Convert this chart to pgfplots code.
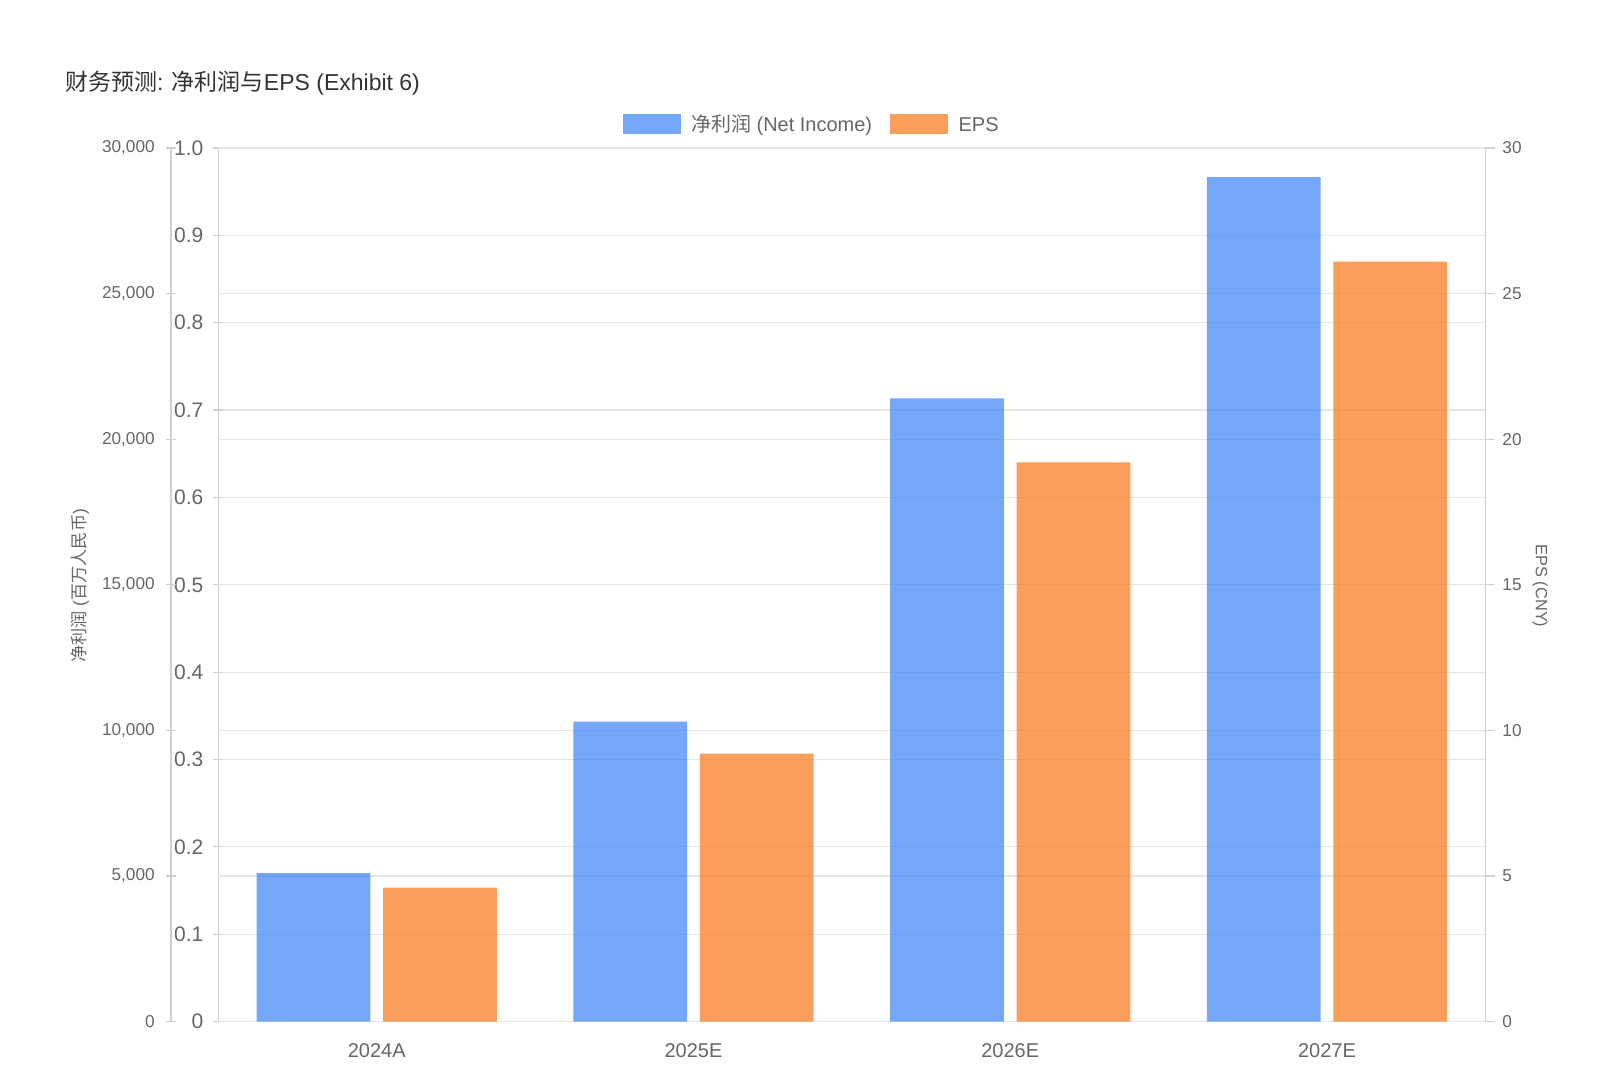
\documentclass[border=0pt]{standalone}
\usepackage{fontspec}
\setmainfont{Liberation Sans}
\newfontfamily\cjk{Noto Sans CJK SC}
\usepackage{pgfplots}
\usepackage{pgfplotstable}
\pgfplotsset{compat=1.18}
\definecolor{niblue}{RGB}{59,130,246}
\definecolor{epsorange}{RGB}{249,115,22}
\definecolor{txt}{HTML}{666666}
\definecolor{titlec}{HTML}{333333}
\definecolor{gridc}{HTML}{E6E6E6}
\definecolor{axc}{HTML}{D0D0D0}

\pgfplotstableread{
x ni eps
0 5100 4.6
1 10300 9.2
2 21400 19.2
3 29000 26.1
}\datatable

\begin{document}
\begin{tikzpicture}
\path[use as bounding box] (0,0) rectangle (811.5pt,540pt);
\pgfplotsset{
  base/.style={scale only axis, width=633.5pt, height=436.8pt,
    at={(109.2pt,29.2pt)}, anchor=south west, xmin=-0.5, xmax=3.5,
    /pgf/number format/assume math mode=true,
    tick style={axc, line width=0.6pt},
    grid style={gridc, line width=0.6pt},
    tick align=outside, major tick length=5pt,
    scaled y ticks=false},
  noarrow/.style={axis line style={-, axc, line width=0.8pt}},
}
% phantom 0-1 axis with x labels and legend
\begin{axis}[base, ymin=0, ymax=1,
  axis x line=bottom, axis y line=left, noarrow,
  ytick={0,0.1,0.2,0.3,0.4,0.5,0.6,0.7,0.8,0.9,1},
  yticklabels={0,0.1,0.2,0.3,0.4,0.5,0.6,0.7,0.8,0.9,1.0},
  yticklabel style={font=\fontsize{10.5}{12}\selectfont, text=txt, xshift=-1.5pt},
  ymajorgrids,
  xtick={0,1,2,3}, xticklabels={2024A,2025E,2026E,2027E},
  xtick style={draw=none},
  xticklabel style={font=\fontsize{10}{12}\selectfont, text=txt, yshift=-5pt},
  legend columns=2,
  legend style={at={(0.469,1.027)}, anchor=center, draw=none, fill=none,
    font=\fontsize{10}{12}\selectfont, text=txt,
    /tikz/every even column/.style={column sep=7pt}},
  legend cell align=left]
\addlegendimage{legend image code/.code={\fill[niblue, fill opacity=0.7, draw=none] (0pt,-5pt) rectangle (29pt,5pt); \path (32pt,0pt);}}
\addlegendentry{{\cjk 净利润} (Net Income)}
\addlegendimage{legend image code/.code={\fill[epsorange, fill opacity=0.7, draw=none] (0pt,-5pt) rectangle (29pt,5pt); \path (32pt,0pt);}}
\addlegendentry{EPS{\cjk\vphantom{净}}}
\end{axis}
% net income bars
\begin{axis}[base, ymin=0, ymax=30000,
  ytick={0,5000,10000,15000,20000,25000,30000}, yticklabels={},
  xtick=\empty, ymajorgrids, major tick length=0pt,
  axis line style={draw=none},
  ybar, bar width=56.9pt, bar shift=-31.6pt]
\addplot[fill=niblue, fill opacity=0.7, draw=none] table[x=x, y=ni]{\datatable};
\end{axis}
% EPS bars, right axis
\begin{axis}[base, ymin=0, ymax=30,
  axis y line*=right, axis x line=none, noarrow,
  ytick={0,5,10,15,20,25,30},
  yticklabel style={font=\fontsize{8.6}{10}\selectfont, text=txt},
  ybar, bar width=56.9pt, bar shift=31.6pt]
\addplot[fill=epsorange, fill opacity=0.7, draw=none] table[x=x, y=eps]{\datatable};
\end{axis}
% outer left axis for net income
\begin{axis}[base, width=1pt, at={(85.35pt,29.2pt)}, xmin=0, xmax=1,
  ymin=0, ymax=30000,
  axis y line=left, axis x line=none, noarrow,
  ytick={0,5000,10000,15000,20000,25000,30000},
  yticklabel style={font=\fontsize{8.6}{10}\selectfont, text=txt, xshift=-2pt,
    /pgf/number format/1000 sep={,}}]
\end{axis}
\node[anchor=west, text=titlec, font=\fontsize{11.5}{14}\selectfont] at (29pt,498.6pt)
  {{\cjk 财务预测}: {\cjk 净利润与}EPS (Exhibit 6)};
\node[rotate=90, text=txt, font=\fontsize{8.6}{10}\selectfont] at (40pt,247pt)
  {{\cjk 净利润} ({\cjk 百万人民币})};
\node[rotate=-90, text=txt, font=\fontsize{8.2}{10}\selectfont] at (770pt,247pt)
  {EPS (CNY)};
\end{tikzpicture}
\end{document}
